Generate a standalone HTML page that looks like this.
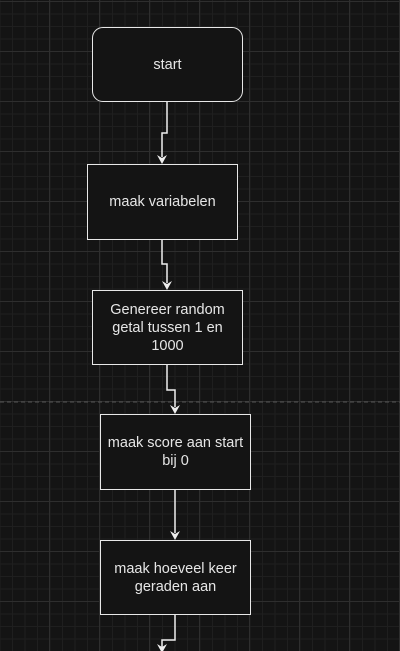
<!DOCTYPE html>
<html><head><style>
html,body{margin:0;padding:0;background:#121212;}
body{width:400px;height:651px;overflow:hidden;position:relative;
background-color:#141414;
background-image:
linear-gradient(to right,#2e2e2e 1px,transparent 1px),
linear-gradient(to bottom,#2e2e2e 1px,transparent 1px),
linear-gradient(to right,#1f1f1f 1px,transparent 1px),
linear-gradient(to bottom,#1f1f1f 1px,transparent 1px);
background-size:50px 50px,50px 50px,12.5px 12.5px,12.5px 12.5px;
background-position:49px 1px,1px 1px,-0.5px 1px,1px 1px;
font-family:"Liberation Sans",Arial,sans-serif;}
.b{position:absolute;box-sizing:border-box;border:1.5px solid #e8e8e8;background:#141414;color:#e6e6e6;
font-size:14.5px;line-height:18px;display:flex;align-items:center;justify-content:center;text-align:center;padding:0 4px;}
svg{position:absolute;left:0;top:0;}
</style></head><body>
<svg width="400" height="651">
<line x1="0" y1="402" x2="400" y2="402" stroke="#555" stroke-dasharray="4 3" stroke-width="1"/>
<g stroke="#eee" stroke-width="1.5" fill="none">
<polyline points="167,101 167,133 162,133 162,157"/>
<polyline points="162,239 162,264 167,264 167,283"/>
<polyline points="167,364 167,390 175,390 175,407"/>
<polyline points="175,489 175,533"/>
<polyline points="175,615 175,640 162,640 162,651"/>
</g>
<g fill="#eee">
<polygon points="157,155 162,164 167,155 162,158"/>
<polygon points="162,281 167,290 172,281 167,284"/>
<polygon points="170,405 175,414 180,405 175,408"/>
<polygon points="170,531 175,540 180,531 175,534"/>
<polygon points="157,644 162,653 167,644 162,647"/>
</g>
</svg>
<div class="b" style="left:92px;top:27px;width:151px;height:75px;border-radius:11px;">start</div>
<div class="b" style="left:87px;top:164px;width:151px;height:76px;">maak variabelen</div>
<div class="b" style="left:92px;top:290px;width:151px;height:75px;">Genereer random<br>getal tussen 1 en<br>1000</div>
<div class="b" style="left:100px;top:414px;width:151px;height:76px;">maak score aan start bij 0</div>
<div class="b" style="left:100px;top:540px;width:151px;height:75px;">maak hoeveel keer geraden aan</div>
</body></html>
